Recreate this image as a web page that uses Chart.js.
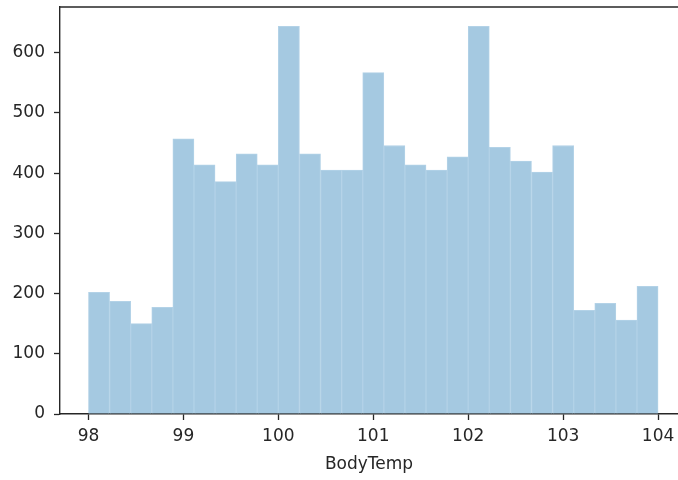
<!DOCTYPE html>
<html>
<head>
<meta charset="utf-8">
<script src="https://cdn.jsdelivr.net/npm/chart.js@4"></script>
<style>
  html, body { margin: 0; padding: 0; background: #fff; }
  #wrap { width: 678px; height: 480px; }
</style>
</head>
<body>
<div id="wrap"><canvas id="hist" width="678" height="480"></canvas></div>
<script>
  // histogram of BodyTemp, 27 equal bins from 98 to 104
  const binLow = 98;
  const binHigh = 104;
  const counts = [202, 187, 150, 177, 457, 414, 386, 432, 414, 644, 432, 405, 405, 567,
    446, 414, 405, 427, 644, 443, 420, 402, 446, 172, 184, 156, 212];
  const xTicks = [98, 99, 100, 101, 102, 103, 104];
  const yTicks = [0, 100, 200, 300, 400, 500, 600];

  const binWidth = (binHigh - binLow) / counts.length;
  const points = counts.map((c, i) => ({ x: binLow + binWidth * (i + 0.5), y: c }));

  const ink = '#262626';
  const tickFont = { family: 'DejaVu Sans', size: 17 };

  const topSpine = {
    id: 'topSpine',
    afterDraw(chart) {
      const { ctx, chartArea } = chart;
      ctx.save();
      ctx.strokeStyle = ink;
      ctx.lineWidth = 1.4;
      ctx.beginPath();
      ctx.moveTo(chartArea.left, chartArea.top);
      ctx.lineTo(chartArea.right, chartArea.top);
      ctx.stroke();
      ctx.restore();
    },
  };

  new Chart(document.getElementById('hist'), {
    type: 'bar',
    data: {
      datasets: [{
        data: points,
        backgroundColor: '#a5c9e1',
        borderColor: '#b3d2e7',
        borderWidth: 1,
        barPercentage: 1,
        categoryPercentage: 1,
      }],
    },
    options: {
      responsive: false,
      animation: false,
      layout: { padding: { top: 7, right: 0, left: 0, bottom: 0 } },
      plugins: { legend: { display: false }, tooltip: { enabled: false } },
      scales: {
        x: {
          type: 'linear',
          offset: false,
          min: 97.7,
          max: 104.21,
          afterBuildTicks(scale) { scale.ticks = xTicks.map((v) => ({ value: v })); },
          afterFit(scale) {
            scale.height = 66;
            scale.paddingLeft = 0;
            scale.paddingRight = 0;
          },
          grid: { offset: false, drawOnChartArea: false, drawTicks: true, tickLength: 6, tickColor: ink, tickWidth: 1.3 },
          border: { display: true, color: ink, width: 1.4 },
          ticks: { color: ink, font: tickFont, padding: 6, maxRotation: 0 },
          title: { display: true, text: 'BodyTemp', color: ink, font: tickFont, padding: { top: 2, bottom: 5 } },
        },
        y: {
          min: 0,
          max: 676,
          afterBuildTicks(scale) { scale.ticks = yTicks.map((v) => ({ value: v })); },
          afterFit(scale) {
            scale.width = 60;
            scale.paddingTop = 0;
            scale.paddingBottom = 0;
          },
          grid: { drawOnChartArea: false, drawTicks: true, tickLength: 6, tickColor: ink, tickWidth: 1.3 },
          border: { display: true, color: ink, width: 1.4 },
          ticks: { color: ink, font: tickFont, padding: 9 },
        },
      },
    },
    plugins: [topSpine],
  });
</script>
</body>
</html>
